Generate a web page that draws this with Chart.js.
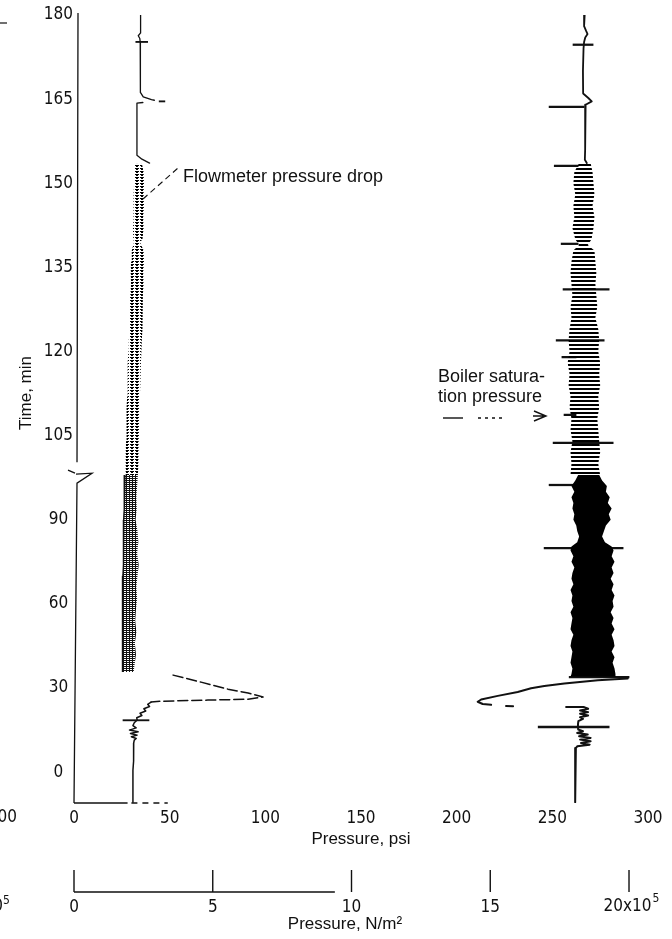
<!DOCTYPE html>
<html>
<head>
<meta charset="utf-8">
<title>Flowmeter pressure drop and boiler saturation pressure</title>
<script src="https://cdn.jsdelivr.net/npm/chart.js@4.4.1/dist/chart.umd.min.js"></script>
<style>
  html, body { margin: 0; padding: 0; background: #fff; }
  #chart { display: block; }
</style>
</head>
<body>
<canvas id="chart" width="672" height="939"></canvas>
<script>
// ------------------ Data ------------------
// Times are in minutes as printed on the axis. The time axis is broken between 90 and 105:
// below the break one tick step is 30 min, above it 15 min, so each part keeps its own arrays.
const yTickLabels = [0, 30, 60, 90, 105, 120, 135, 150, 165, 180];
const psiTicks = [0, 50, 100, 150, 200, 250, 300];
const paTicks = [0, 5, 10, 15, 20]; // x10^5 N/m2

// Flowmeter pressure drop, psi
const flowTopT = [180, 176.8, 176.3, 175.8, 175.2, 170, 166.2, 165.4, 164.9, 164.8, 164.6, 164.4, 164.3, 155.0, 154.3, 153.6];
const flowTopP = [34.8, 34.8, 33.6, 34.4, 34.6, 34.6, 34.8, 36.2, 40.5, 42.0, null, 36.0, 32.9, 32.9, 35.5, 39.5];

const flowBandUpT  = [153.5, 152, 150, 148, 146, 144, 142, 140, 139.5, 138, 136, 134, 132, 130, 128, 126, 124, 122, 120, 118, 116, 114, 112, 110, 108, 106, 104, 102, 100, 98];
const flowBandUpLo = [31.8, 31.4, 31.4, 31.2, 31.0, 31.2, 30.8, 31.0, 31.4, 30.2, 29.8, 29.6, 29.8, 29.4, 29.0, 28.8, 29.0, 28.6, 28.4, 28.2, 28.0, 28.0, 27.8, 27.6, 27.4, 27.4, 27.2, 27.0, 27.0, 26.8];
const flowBandUpHi = [35.5, 36.4, 36.6, 36.4, 36.6, 36.2, 36.4, 35.8, 34.5, 36.4, 36.6, 36.2, 36.4, 36.0, 35.8, 36.0, 35.6, 35.4, 35.2, 35.0, 34.8, 34.6, 34.4, 34.2, 34.2, 34.0, 33.8, 33.6, 33.8, 33.4];

const flowBandLowT  = [106, 102, 98, 94, 90, 86, 82, 78, 74, 70, 66, 62, 58, 54, 50, 46, 42, 38, 35.7];
const flowBandLowLo = [26.6, 26.4, 26.2, 26.2, 26.0, 26.0, 25.8, 25.8, 25.8, 25.6, 25.6, 25.6, 25.4, 25.4, 25.4, 25.2, 25.2, 25.2, 25.2];
const flowBandLowHi = [33.4, 33.0, 32.6, 32.8, 32.2, 33.2, 33.6, 33.0, 33.8, 33.2, 32.6, 33.0, 32.4, 32.0, 32.6, 31.8, 32.4, 31.6, 31.2];

const flowStartT = [34.6, 32.1, 29.6, 28.2, 26.8, 26.0, 25.7, 25.3, 25.0, 24.2, 23.4, 22.6, 21.8, 21.0, 20.2, 19.4, 18.6, 17.6, 16.6, 15.8, 15.0, 14.4, 13.8, 13.2, 12.6, 12.0, 11.4, 10.4, 8.9, 4.0, 0.7, -5.0, -10.7];
const flowStartP = [51.8, 66.4, 80.5, 91.0, 98.8, 91.0, 70.0, 45.5, 40.3, 38.5, 39.5, 36.5, 37.5, 34.5, 35.5, 32.8, 33.0, 31.5, 30.8, 32.5, 29.0, 33.5, 29.5, 33.0, 30.0, 32.5, 31.5, 31.2, 31.3, 31.0, 30.8, 30.8, 30.8];

const flowSpikeUpT = [175.2, 164.6];
const flowSpikeUpLo = [32.3, 44.5];
const flowSpikeUpHi = [38.5, 47.5];
const flowSpikeLowT = [18.5];
const flowSpikeLowLo = [25.6];
const flowSpikeLowHi = [39.2];

// Boiler saturation pressure, psi
const boilerTopT = [180, 178, 177.2, 176.6, 176.0, 175.2, 174.0, 170, 166, 165.2, 164.6, 164.0, 160, 156, 154.2, 153.6];
const boilerTopP = [266.9, 266.6, 267.6, 268.4, 267.2, 266.6, 266.3, 266.0, 266.1, 268.8, 270.6, 267.4, 267.2, 267.1, 267.0, 268.0];

const boilerBandUpT  = [153.6, 152, 150, 148, 146, 144, 142, 140, 139, 138, 136, 134, 132, 130, 128, 126, 124, 122, 120, 118, 116, 114, 112, 110, 108, 106, 104, 102, 100, 98];
const boilerBandUpLo = [264, 261.5, 261, 262, 261, 261.5, 260.5, 262, 264, 261, 260, 259.5, 260, 260.5, 259.5, 260, 259, 258.5, 259, 258, 259, 258.5, 259.5, 259, 260, 259.5, 260.5, 259.5, 260, 259.5];
const boilerBandUpHi = [270, 271, 271.5, 272, 271, 272, 271.5, 270.5, 268.5, 272, 272.5, 273, 272.5, 273, 273.5, 272.5, 274, 274.5, 274, 275, 274.5, 275, 274, 274.5, 273.5, 274, 274.5, 275, 274, 275];

const boilerBandLowT  = [106, 104, 102, 100, 98, 96, 94, 92, 90, 88, 86, 84, 82, 80.5, 79, 77, 75, 73, 71, 69, 67, 65, 63, 61, 59, 57, 55, 53, 51, 49, 47, 45, 43, 41, 39, 37, 35, 34];
const boilerBandLowLo = [263.5, 262, 260, 261.5, 260, 261, 260.5, 261.5, 261, 262.5, 263, 264, 263, 260, 259.5, 261, 260, 261.5, 260.5, 260, 261, 259.5, 260.5, 260, 261, 259.5, 260.5, 260, 259.5, 261, 260, 259.5, 260.5, 260, 259.5, 260.5, 260, 259.5];
const boilerBandLowHi = [274.5, 276, 278.5, 278, 280, 279, 281, 279.5, 280.5, 278, 277, 276, 277.5, 281, 282, 281, 282.5, 281, 282, 280.5, 282, 281, 282.5, 281.5, 282, 280.5, 282, 281, 282.5, 281, 282, 282.5, 281, 282.5, 281.5, 282.5, 283, 283];

const boilerStartT = [33.4, 32.8, 31.6, 30.7, 29.9, 28.6, 27.2, 25.9, 25.1, 24.3, 24.0, 23.8, 23.6, 23.5, 23.3, 23.2, 23.2, 22.6, 22.0, 21.4, 20.8, 20.2, 19.6, 19.0, 18.2, 17.0, 16.0, 15.2, 14.6, 14.0, 13.4, 12.8, 12.2, 11.6, 11.0, 10.4, 9.8, 9.2, 8.6, 6.0, 2.0, -3.0, -8.0, -10.7];
const boilerStartP = [289.4, 273.8, 256.3, 245.8, 238.9, 231.9, 221.5, 212.8, 211.0, 213.6, 218.0, null, 225.8, 229.5, null, 257.2, 266.6, 268.7, 264.5, 268.7, 264.5, 268.7, 264.5, 266.0, 263.6, 263.4, 263.4, 263.5, 266.0, 263.0, 268.5, 264.0, 270.0, 264.5, 270.0, 265.0, 269.5, 263.0, 262.3, 262.0, 261.9, 261.9, 262.0, 261.9];

const boilerSpikeUpT  = [174.7, 163.6, 153.1, 139.2, 131.1, 122.0, 119.0, 108.7, 103.7];
const boilerSpikeUpLo = [260.8, 248.3, 251.0, 254.6, 255.6, 252.0, 255.0, 256.1, 250.4];
const boilerSpikeUpHi = [271.3, 266.6, 263.5, 263.5, 279.7, 277.1, 262.4, 262.4, 281.8];
const boilerSpikeLowT  = [102.4, 79.9, 33.9, 16.1];
const boilerSpikeLowLo = [248.3, 245.7, 258.8, 242.6];
const boilerSpikeLowHi = [263.5, 287.0, 290.1, 279.7];

// ------------------ Axis helpers ------------------
const lowerPos = t => t / 2;    // below the break
const upperPos = t => t - 45;   // above the break
const tickPos = t => (t <= 90 ? lowerPos(t) : upperPos(t));
const breakPos = 53.3;
const PSI_PER_1E5_PA = 1e5 / 6894.757;

const ink = "#111";
const numFamily = '"Liberation Sans Narrow", "DejaVu Sans Condensed", "Liberation Sans", sans-serif';
const textFamily = '"Liberation Sans", Arial, sans-serif';

function trace(ts, ps, pos) {
  return ts.map((t, i) => ({ x: ps[i], y: pos(t) }));
}
function strokes(ts, lo, hi, pos) {
  return ts.map((t, i) => ({ y: pos(t), x: [lo[i], hi[i]] }));
}

const canvas = document.getElementById("chart");
const ctx2d = canvas.getContext("2d");
function hatch(w, h, draw) {
  const c = document.createElement("canvas");
  c.width = w;
  c.height = h;
  draw(c.getContext("2d"));
  return ctx2d.createPattern(c, "repeat");
}
const boilerHairs = hatch(4, 4, g => { g.fillStyle = "#000"; g.fillRect(0, 0, 4, 2); });
const flowHairs = hatch(5, 3, g => { g.fillStyle = "#000"; g.fillRect(0, 0, 4, 1); g.fillRect(1, 1, 2, 1); });
const flowDense = hatch(3, 2, g => { g.fillStyle = "#111"; g.fillRect(0, 0, 3, 1); g.fillRect(0, 1, 1, 1); });

function band(ts, lo, hi, pos, fillStyle, edge) {
  const base = { type: "line", indexAxis: "y", pointRadius: 0, tension: 0, borderColor: ink };
  return [
    { ...base, data: trace(ts, lo, pos), borderWidth: edge || 0, fill: false },
    { ...base, data: trace(ts, hi, pos), borderWidth: 0, fill: "-1", backgroundColor: fillStyle }
  ];
}
function line(ts, ps, pos, width, extra) {
  return Object.assign({
    type: "line", indexAxis: "y", data: trace(ts, ps, pos),
    borderColor: ink, borderWidth: width, pointRadius: 0, tension: 0,
    spanGaps: false, fill: false, borderJoinStyle: "round", borderCapStyle: "round"
  }, extra || {});
}
function spikes(upT, upLo, upHi, lowT, lowLo, lowHi, thick) {
  return {
    type: "bar", indexAxis: "y", grouped: false, barThickness: thick,
    backgroundColor: ink, borderWidth: 0,
    data: strokes(upT, upLo, upHi, upperPos).concat(strokes(lowT, lowLo, lowHi, lowerPos))
  };
}

// ------------------ Extra drawing: broken axis, second pressure scale, notes ------------------
const decorations = {
  id: "decorations",
  afterDraw(chart) {
    const { ctx, chartArea: area, scales: { x, y } } = chart;
    const x0 = x.getPixelForValue(0);
    const yb = y.getPixelForValue(breakPos);
    ctx.save();
    ctx.strokeStyle = ink;
    ctx.fillStyle = ink;
    ctx.lineWidth = 1.3;

    // zero line with the break mark
    ctx.beginPath();
    ctx.moveTo(x0 + 4, area.top - 2);
    ctx.lineTo(x0 + 3, yb - 11);
    ctx.moveTo(x0 - 6, yb - 3);
    ctx.lineTo(x0 + 1, yb);
    ctx.moveTo(x0 + 2, yb + 1);
    ctx.lineTo(x0 + 18, yb);
    ctx.lineTo(x0 + 3, yb + 10);
    ctx.lineTo(x0, area.bottom);
    ctx.stroke();

    // what is left of the psi base line
    ctx.beginPath();
    ctx.moveTo(x0, area.bottom);
    ctx.lineTo(x.getPixelForValue(28), area.bottom);
    ctx.stroke();
    ctx.setLineDash([6, 5]);
    ctx.beginPath();
    ctx.moveTo(x.getPixelForValue(30), area.bottom);
    ctx.lineTo(x.getPixelForValue(49), area.bottom);
    ctx.stroke();
    ctx.setLineDash([]);

    // time axis title
    ctx.font = "17px " + textFamily;
    ctx.textAlign = "center";
    ctx.textBaseline = "alphabetic";
    ctx.save();
    ctx.translate(31, 393);
    ctx.rotate(-Math.PI / 2);
    ctx.fillText("Time, min", 0, 0);
    ctx.restore();

    // second pressure scale, N/m2
    const px = v => x.getPixelForValue(v * PSI_PER_1E5_PA);
    const base = area.bottom + 89;
    ctx.lineWidth = 1.4;
    ctx.beginPath();
    ctx.moveTo(px(0), base);
    ctx.lineTo(px(9.4), base);
    paTicks.forEach(v => {
      ctx.moveTo(px(v), base - 22);
      ctx.lineTo(px(v), base);
    });
    ctx.stroke();
    ctx.font = "17px " + numFamily;
    paTicks.forEach(v => {
      if (v < 20) {
        ctx.textAlign = "center";
        ctx.fillText(String(v), px(v), base + 20);
      } else {
        ctx.textAlign = "left";
        const w1 = ctx.measureText("20x10").width;
        const start = px(v) - (w1 + 7) / 2 + 2;
        ctx.fillText("20x10", start, base + 19);
        ctx.font = "12px " + numFamily;
        ctx.fillText("5", start + w1 + 1, base + 10);
        ctx.font = "17px " + numFamily;
      }
    });
    ctx.font = "17px " + textFamily;
    ctx.textAlign = "center";
    ctx.fillText("Pressure, N/m\u00b2", (area.left + area.right) / 2 - 16, base + 37);

    // edges of the neighbouring figure
    ctx.font = "17px " + numFamily;
    ctx.textAlign = "right";
    ctx.fillText("100", 17, area.bottom + 19);
    ctx.fillText("20x10", 3, base + 19);
    ctx.font = "12px " + numFamily;
    ctx.textAlign = "left";
    ctx.fillText("5", 3, base + 12);
    ctx.lineWidth = 1.2;
    ctx.beginPath();
    ctx.moveTo(0, 23);
    ctx.lineTo(7, 23);
    ctx.stroke();

    // notes
    ctx.font = "18px " + textFamily;
    ctx.textAlign = "left";
    ctx.fillText("Flowmeter pressure drop", 183, 182);
    ctx.fillText("Boiler satura-", 438, 382);
    ctx.fillText("tion pressure", 438, 402);
    ctx.lineWidth = 1.1;
    ctx.setLineDash([6, 4]);
    ctx.beginPath();
    ctx.moveTo(143, 199);
    ctx.lineTo(178, 168);
    ctx.stroke();
    ctx.setLineDash([]);
    ctx.lineWidth = 1.4;
    ctx.beginPath();
    ctx.moveTo(443, 418);
    ctx.lineTo(463, 418);
    ctx.stroke();
    ctx.setLineDash([3, 4]);
    ctx.beginPath();
    ctx.moveTo(478, 418);
    ctx.lineTo(502, 418);
    ctx.stroke();
    ctx.setLineDash([]);
    ctx.beginPath();
    ctx.moveTo(534, 411);
    ctx.lineTo(546, 416);
    ctx.lineTo(534, 421);
    ctx.moveTo(533, 416);
    ctx.lineTo(546, 416);
    ctx.stroke();
    ctx.restore();
  }
};

// ------------------ Chart ------------------
new Chart(canvas, {
  type: "line",
  data: {
    datasets: [
      ...band(boilerBandUpT, boilerBandUpLo, boilerBandUpHi, upperPos, boilerHairs),
      ...band(boilerBandLowT, boilerBandLowLo, boilerBandLowHi, lowerPos, "#000"),
      ...band(flowBandUpT, flowBandUpLo, flowBandUpHi, upperPos, flowHairs),
      ...band(flowBandLowT, flowBandLowLo, flowBandLowHi, lowerPos, flowDense, 1.4),
      line(flowTopT, flowTopP, upperPos, 1.3),
      line(flowStartT, flowStartP, lowerPos, 1.5, {
        segment: { borderDash: c => (c.p1DataIndex <= 8 ? [10, 4] : undefined) }
      }),
      line(boilerTopT, boilerTopP, upperPos, 1.8),
      line(boilerStartT, boilerStartP, lowerPos, 2),
      spikes(boilerSpikeUpT, boilerSpikeUpLo, boilerSpikeUpHi, boilerSpikeLowT, boilerSpikeLowLo, boilerSpikeLowHi, 1.6),
      spikes(flowSpikeUpT, flowSpikeUpLo, flowSpikeUpHi, flowSpikeLowT, flowSpikeLowLo, flowSpikeLowHi, 1.2)
    ]
  },
  options: {
    indexAxis: "y",
    responsive: false,
    animation: false,
    devicePixelRatio: 1,
    layout: { padding: { top: 15, right: 24, bottom: 86, left: 0 } },
    plugins: { legend: { display: false }, tooltip: { enabled: false } },
    scales: {
      x: {
        type: "linear",
        position: "bottom",
        min: 0,
        max: 300,
        grid: { display: false },
        border: { display: false },
        afterBuildTicks: s => { s.ticks = psiTicks.map(v => ({ value: v })); },
        afterFit: s => { s.height = 50; },
        ticks: { color: ink, padding: -3, maxRotation: 0, font: { family: numFamily, size: 17 } },
        title: {
          display: true, text: "Pressure, psi", color: ink,
          font: { family: textFamily, size: 17 }, padding: { top: 0, bottom: 3 }
        }
      },
      y: {
        type: "linear",
        offset: false,
        min: -5.5,
        max: 135,
        grid: { display: false, offset: false },
        border: { display: false },
        afterBuildTicks: s => { s.ticks = yTickLabels.map(t => ({ value: tickPos(t) })); },
        afterFit: s => { s.width = 74; },
        ticks: {
          color: ink, padding: -7, crossAlign: "center",
          font: { family: numFamily, size: 17 },
          callback: (v, i) => yTickLabels[i]
        }
      }
    }
  },
  plugins: [decorations]
});
</script>
</body>
</html>
